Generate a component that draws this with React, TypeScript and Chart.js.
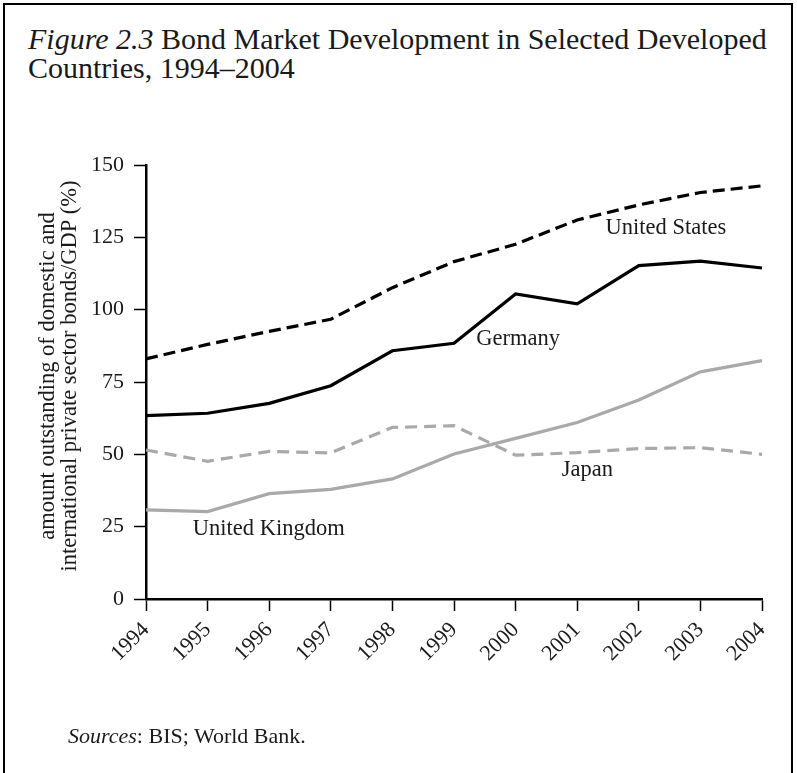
import React, { useEffect, useRef } from "react";
import { Chart, registerables } from "chart.js";

Chart.register(...registerables);

const years = ["1994", "1995", "1996", "1997", "1998", "1999", "2000", "2001", "2002", "2003", "2004"];
const unitedStates = [83, 88, 92.5, 96.7, 107.6, 116.6, 122.6, 131, 136.2, 140.5, 142.8];
const germany = [63.4, 64.2, 67.6, 73.7, 85.8, 88.4, 105.4, 102, 115.2, 116.8, 114.4];
const japan = [51.5, 47.6, 51, 50.5, 59.3, 59.9, 49.7, 50.6, 52, 52.3, 50];
const unitedKingdom = [30.8, 30.2, 36.4, 37.9, 41.5, 50.1, 55.5, 61, 68.8, 78.5, 82.4];

const yMin = 0;
const yMax = 150;
const yStep = 25;

const yTitleLines = ["amount outstanding of domestic and", "international private sector bonds/GDP (%)"];

// label anchors: x = fractional category index, y = value at text baseline
const seriesLabelText = ["United States", "Germany", "Japan", "United Kingdom"];
const seriesLabelX = [7.46, 5.36, 6.75, 0.76];
const seriesLabelY = [126.2, 87.8, 42.5, 22.1];

const SERIF = '"Liberation Serif", "Times New Roman", serif';

const labelsPlugin = {
  id: "customLabels",
  afterDraw(chart: any) {
    const ctx = chart.ctx;
    const xs = chart.scales.x;
    const ys = chart.scales.y;
    const area = chart.chartArea;
    ctx.save();
    ctx.fillStyle = "#1a1a1a";
    ctx.font = `22.5px ${SERIF}`;
    ctx.textBaseline = "alphabetic";
    ctx.textAlign = "left";
    for (let i = 0; i < seriesLabelText.length; i++) {
      const px = xs.getPixelForValue(seriesLabelX[i]);
      const py = ys.getPixelForValue(seriesLabelY[i]);
      ctx.fillText(seriesLabelText[i], px, py);
    }
    // y axis title (two rotated lines)
    const cy = (area.top + area.bottom) / 2 - 6;
    const baseXs = [54, 76];
    ctx.textAlign = "center";
    for (let i = 0; i < yTitleLines.length; i++) {
      ctx.save();
      ctx.translate(baseXs[i], cy);
      ctx.rotate(-Math.PI / 2);
      ctx.fillText(yTitleLines[i], 0, 0);
      ctx.restore();
    }
    ctx.restore();
  },
};

export default function App() {
  const canvasRef = useRef<HTMLCanvasElement | null>(null);

  useEffect(() => {
    const canvas = canvasRef.current;
    if (!canvas) return;
    const chart = new Chart(canvas, {
      type: "line",
      data: {
        labels: years,
        datasets: [
          {
            label: "United States",
            data: unitedStates,
            borderColor: "#000000",
            borderWidth: 3.2,
            borderDash: [12, 6],
            pointRadius: 0,
            tension: 0,
            fill: false,
          },
          {
            label: "Germany",
            data: germany,
            borderColor: "#000000",
            borderWidth: 3.2,
            pointRadius: 0,
            tension: 0,
            fill: false,
          },
          {
            label: "Japan",
            data: japan,
            borderColor: "#a9a9a9",
            borderWidth: 3.2,
            borderDash: [12, 7],
            pointRadius: 0,
            tension: 0,
            fill: false,
          },
          {
            label: "United Kingdom",
            data: unitedKingdom,
            borderColor: "#a9a9a9",
            borderWidth: 3.2,
            pointRadius: 0,
            tension: 0,
            fill: false,
          },
        ],
      },
      options: {
        responsive: false,
        animation: false,
        devicePixelRatio: 1,
        layout: { padding: { top: 165, right: 35, left: 0, bottom: 0 } },
        plugins: {
          legend: { display: false },
          title: { display: false },
          tooltip: { enabled: false },
        },
        scales: {
          x: {
            type: "category",
            offset: false,
            border: { display: true, color: "#000000", width: 2.5 },
            grid: {
              display: true,
              drawOnChartArea: false,
              drawTicks: true,
              tickLength: 12,
              tickWidth: 1.5,
              tickColor: "#000000",
            },
            ticks: {
              color: "#1a1a1a",
              font: { family: SERIF, size: 22 },
              maxRotation: 45,
              minRotation: 45,
              padding: 6,
              autoSkip: false,
            },
            afterFit(scale: any) {
              scale.height = 174;
            },
          },
          y: {
            type: "linear",
            min: yMin,
            max: yMax,
            border: { display: true, color: "#000000", width: 2.5 },
            grid: {
              display: true,
              drawOnChartArea: false,
              drawTicks: true,
              tickLength: 12,
              tickWidth: 1.5,
              tickColor: "#000000",
            },
            ticks: {
              stepSize: yStep,
              color: "#1a1a1a",
              font: { family: SERIF, size: 22 },
              padding: 10,
            },
            afterFit(scale: any) {
              scale.width = 146;
            },
          },
        },
      },
      plugins: [labelsPlugin],
    });
    return () => {
      chart.destroy();
    };
  }, []);

  return (
    <div
      style={{
        position: "absolute",
        left: 0,
        top: 0,
        width: 797,
        height: 773,
        overflow: "hidden",
        background: "#ffffff",
        fontFamily: SERIF,
        color: "#1a1a1a",
      }}
    >
      <div
        style={{
          position: "absolute",
          left: 3,
          top: 3,
          width: 790,
          height: 820,
          border: "2px solid #000000",
          boxSizing: "border-box",
        }}
      />
      <div
        style={{
          position: "absolute",
          left: 28,
          top: 24,
          fontSize: 30,
          lineHeight: "29px",
          whiteSpace: "nowrap",
        }}
      >
        <i>Figure 2.3</i> Bond Market Development in Selected Developed
        <br />
        Countries, 1994–2004
      </div>
      <canvas
        ref={canvasRef}
        width={797}
        height={773}
        style={{ position: "absolute", left: 0, top: 0, width: 797, height: 773 }}
      />
      <div
        style={{
          position: "absolute",
          left: 68,
          top: 725,
          fontSize: 22,
          lineHeight: "22px",
          whiteSpace: "nowrap",
        }}
      >
        <i>Sources</i>: BIS; World Bank.
      </div>
    </div>
  );
}
